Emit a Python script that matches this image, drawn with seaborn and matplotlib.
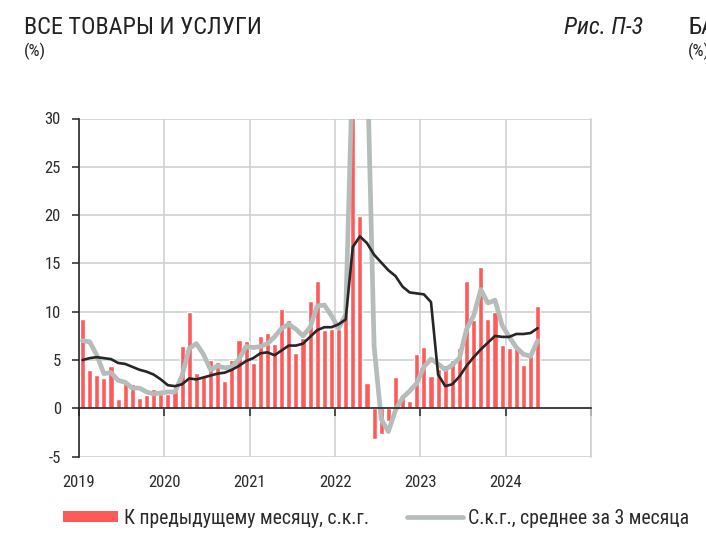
import numpy as np
import pandas as pd
import matplotlib
matplotlib.use("Agg")
import matplotlib.pyplot as plt
import matplotlib.font_manager as fm
from matplotlib.patches import Patch
from matplotlib.lines import Line2D
import seaborn as sns

# ---------------- data ----------------
start_month = "2019-01"
year_labels = ["2019", "2020", "2021", "2022", "2023", "2024"]
y_ticks = [-5, 0, 5, 10, 15, 20, 25, 30]

# month-on-month, seasonally adjusted annualised (bars)
mom_saar = [
    9.2, 4.0, 3.5, 3.1, 4.4, 1.0, 2.6, 2.5, 1.1, 1.4, 2.0, 1.5,      # 2019
    1.5, 1.9, 6.5, 10.0, 3.7, 3.4, 5.0, 4.8, 2.8, 5.0, 7.1, 6.95,    # 2020
    4.7, 7.5, 7.8, 6.7, 10.3, 9.1, 5.7, 7.3, 11.1, 13.2, 8.1, 8.2,   # 2021
    8.2, 12.4, 88.0, 19.9, 2.6, -3.2, -2.6, -1.3, 3.2, 1.3, 0.8, 5.6,  # 2022
    6.4, 3.4, 4.1, 4.5, 5.0, 6.2, 13.2, 9.1, 14.6, 9.2, 10.0, 6.6,   # 2023
    6.2, 6.2, 4.5, 5.7, 10.6,                                        # 2024
]
# 3-month average of s.a.a.r. (grey line)
avg3_saar = [
    7.0, 6.9, 5.5, 3.6, 3.7, 2.9, 2.7, 2.1, 2.1, 1.7, 1.5, 1.6,
    1.7, 1.7, 3.4, 6.2, 6.7, 5.6, 4.0, 4.4, 4.2, 4.3, 5.1, 6.4,
    6.3, 6.4, 6.7, 7.4, 8.3, 8.7, 8.2, 7.5, 8.4, 10.6, 10.7, 9.6,
    8.3, 9.7, 36.0, 40.0, 37.0, 6.4, -1.1, -2.4, -0.2, 1.1, 1.8, 2.6,
    4.3, 5.1, 4.6, 4.0, 4.5, 5.2, 8.2, 9.6, 12.3, 10.9, 11.2, 8.6,
    7.4, 6.3, 5.6, 5.4, 7.0,
]
# year-on-year (black line)
yoy = [
    5.0, 5.2, 5.3, 5.2, 5.1, 4.7, 4.6, 4.3, 4.0, 3.8, 3.5, 3.0,
    2.4, 2.3, 2.5, 3.1, 3.0, 3.2, 3.4, 3.6, 3.7, 4.0, 4.4, 4.9,
    5.2, 5.7, 5.8, 5.5, 6.0, 6.5, 6.5, 6.7, 7.4, 8.1, 8.4, 8.4,
    8.7, 9.2, 16.7, 17.8, 17.1, 15.9, 15.1, 14.3, 13.7, 12.6, 12.0, 11.9,
    11.8, 11.0, 3.5, 2.3, 2.5, 3.3, 4.4, 5.3, 6.1, 6.8, 7.5, 7.4,
    7.4, 7.7, 7.7, 7.8, 8.3,
]

title = "ВСЕ ТОВАРЫ И УСЛУГИ"
subtitle = "(%)"
fig_label = "Рис. П-3"
next_title = "БА"
legend_labels = ["К предыдущему месяцу, с.к.г.", "С.к.г., среднее за 3 месяца"]

# ---------------- styling ----------------
RED = "#FF5A5A"
GREY = "#B5BDBA"
DARK = "#262626"
GRID = "#C9D0CD"
TXT = "#2B2B2B"

sns.set_theme(style="white")
avail = {f.name for f in fm.fontManager.ttflist}
fam = None
for c in ["Liberation Sans Narrow", "Roboto Condensed", "Open Sans Condensed", "Arial Narrow"]:
    if c in avail:
        fam = c
        break
if fam is None:
    fam = "DejaVu Sans"
    plt.rcParams["font.stretch"] = "condensed"
plt.rcParams["font.family"] = [fam, "DejaVu Sans"]

months = pd.date_range(start_month, periods=len(mom_saar), freq="MS")
df = pd.DataFrame({
    "i": np.arange(len(months)),
    "date": months,
    "mom": mom_saar,
    "avg3": avg3_saar,
    "yoy": yoy,
})

fig = plt.figure(figsize=(7.06, 5.38), dpi=100)
ax = fig.add_axes([79 / 706, 1 - 456.7 / 538, (591 - 79) / 706, (456.7 - 118.5) / 538])

sns.barplot(data=df, x="i", y="mom", native_scale=True, color=RED, saturation=1,
            width=0.72, ax=ax, zorder=2)
sns.lineplot(data=df, x="i", y="avg3", color=GREY, lw=3.4, ax=ax, zorder=3)
sns.lineplot(data=df, x="i", y="yoy", color=DARK, lw=1.9, ax=ax, zorder=4)

n_years = len(year_labels) + 1
xt = [12 * k - 0.5 for k in range(n_years)]
ax.set_xlim(-0.5, 12 * len(year_labels) - 0.5)
ax.set_ylim(-5, 30)
ax.set_xticks(xt)
ax.set_xticklabels(year_labels + [""])
ax.set_yticks(y_ticks)
ax.set_yticklabels([str(v) for v in y_ticks])
ax.set_xlabel("")
ax.set_ylabel("")

ax.set_axisbelow(True)
ax.grid(True, color=GRID, lw=1.1)

ax.spines["top"].set_visible(False)
ax.spines["right"].set_visible(True)
ax.spines["right"].set_color(GRID)
ax.spines["right"].set_linewidth(1.1)
ax.spines["left"].set_color(DARK)
ax.spines["left"].set_linewidth(1.2)
ax.spines["bottom"].set_position(("data", 0))
ax.spines["bottom"].set_color(DARK)
ax.spines["bottom"].set_linewidth(1.2)
ax.spines["bottom"].set_zorder(5)

ax.tick_params(axis="y", direction="out", length=5, width=1.1, color=DARK,
               labelsize=12, labelcolor=TXT, pad=8, left=True, right=False)
ax.tick_params(axis="x", direction="out", length=6, width=1.1, color=DARK,
               labelsize=12, labelcolor=TXT, pad=42, bottom=True)

# titles
fig.text(24 / 706, 1 - 27 / 538, title, fontsize=17.4, color="#222222", va="center", ha="left")
fig.text(24 / 706, 1 - 51 / 538, subtitle, fontsize=12.5, color="#222222", va="center", ha="left")
fig.text(643 / 706, 1 - 27 / 538, fig_label, fontsize=17.4, color="#222222", va="center",
         ha="right", style="italic")
fig.text(688 / 706, 1 - 27 / 538, next_title, fontsize=17.4, color="#222222", va="center", ha="left")
fig.text(688 / 706, 1 - 51 / 538, subtitle, fontsize=12.5, color="#222222", va="center", ha="left")

handles = [Patch(facecolor=RED, edgecolor="none"),
           Line2D([0], [0], color=GREY, lw=3.4)]
fig.legend(handles, legend_labels, loc="center left",
           bbox_to_anchor=(63 / 706, 1 - 518 / 538), ncol=2, frameon=False,
           fontsize=14.2, handlelength=2.8, handleheight=0.55, handletextpad=0.3,
           columnspacing=1.93, borderaxespad=0, borderpad=0, labelcolor=TXT)

fig.savefig("out.png", dpi=100)
